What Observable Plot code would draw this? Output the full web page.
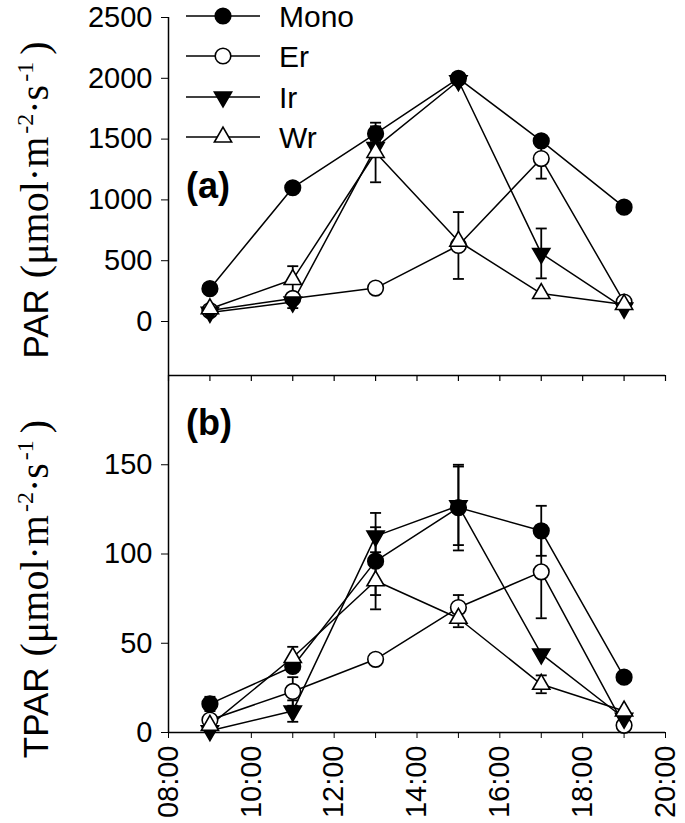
<!DOCTYPE html>
<html><head><meta charset="utf-8">
<script src="https://cdn.jsdelivr.net/npm/d3@7"></script>
<script src="https://cdn.jsdelivr.net/npm/@observablehq/plot@0.6"></script>
<style>
body{margin:0;background:#fff;}
#wrap{position:relative;width:685px;height:823px;font-family:"Liberation Sans",Arial,sans-serif;}
#top,#bot{position:absolute;left:0;}
#top{top:0px;} #bot{top:375px;}
#overlay{position:absolute;left:0;top:0;pointer-events:none;}
</style></head>
<body><div id="wrap"><div id="top"></div><div id="bot"></div><svg id="overlay" width="685" height="823"></svg></div>
<script>
// ---------- data ----------
const times = [9, 11, 13, 15, 17, 19];
const seriesNames = ["Mono", "Er", "Ir", "Wr"];

const parMono = [270, 1100, 1545, 2000, 1485, 940];
const parMonoErr = [0, 0, 60, 0, 0, 0];
const parEr = [90, 190, 275, 625, 1340, 160];
const parErErr = [0, 40, 0, 275, 165, 0];
const parIr = [75, 160, 1430, 1980, 560, 110];
const parIrErr = [0, 50, 0, 0, 205, 0];
const parWr = [105, 345, 1390, 660, 230, 140];
const parWrErr = [0, 110, 245, 0, 0, 0];

const tparMono = [16, 37, 96, 126, 113, 31];
const tparMonoErr = [4, 3, 19, 24, 14, 0];
const tparEr = [7, 23, 41, 70, 90, 4];
const tparErErr = [0, 8, 0, 7, 26, 0];
const tparIr = [1, 12, 110, 127, 44, 8];
const tparIrErr = [0, 6, 13, 22, 0, 0];
const tparWr = [4, 42, 85, 64, 27, 12];
const tparWrErr = [0, 6, 16, 5, 5, 0];

const parTicks = [0, 500, 1000, 1500, 2000, 2500];
const tparTicks = [0, 50, 100, 150];
const hourTicks = [8, 9, 10, 11, 12, 13, 14, 15, 16, 17, 18, 19, 20];
const hourLabelValues = [8, 10, 12, 14, 16, 18, 20];
const hourLabels = ["08:00", "10:00", "12:00", "14:00", "16:00", "18:00", "20:00"];

// ---------- build tables ----------
function rowsOf(valuesBySeries, errsBySeries) {
  const out = [];
  seriesNames.forEach((s, k) => {
    times.forEach((t, i) => out.push({series: s, time: t, value: valuesBySeries[k][i], err: errsBySeries[k][i]}));
  });
  return out;
}
const parRows = rowsOf([parMono, parEr, parIr, parWr], [parMonoErr, parErErr, parIrErr, parWrErr]);
const tparRows = rowsOf([tparMono, tparEr, tparIr, tparWr], [tparMonoErr, tparErErr, tparIrErr, tparWrErr]);

const sqrt3 = Math.sqrt(3);
const triangleDown = {draw(ctx, size) {
  const y = -Math.sqrt(size / (sqrt3 * 3));
  ctx.moveTo(0, -y * 2); ctx.lineTo(sqrt3 * y, y); ctx.lineTo(-sqrt3 * y, y); ctx.closePath();
}};
const capSymbol = {draw(ctx, size) { ctx.moveTo(-5.5, 0); ctx.lineTo(5.5, 0); }};

const styleMap = {
  Mono: {symbol: "circle", fill: "black", r: 7.8},
  Er:   {symbol: "circle", fill: "white", r: 7.8},
  Ir:   {symbol: triangleDown, fill: "black", r: 6.4},
  Wr:   {symbol: "triangle", fill: "white", r: 6.4}
};

function dataMarks(rows) {
  const errRows = rows.filter(d => d.err > 0);
  const marks = [
    Plot.line(rows, {x: "time", y: "value", z: "series", stroke: "black", strokeWidth: 1.5}),
    Plot.ruleX(errRows, {x: "time", y1: d => d.value - d.err, y2: d => d.value + d.err, stroke: "black", strokeWidth: 1.8}),
    Plot.dot(errRows, {x: "time", y: d => d.value - d.err, symbol: capSymbol, r: 3, stroke: "black", fill: "none", strokeWidth: 1.8}),
    Plot.dot(errRows, {x: "time", y: d => d.value + d.err, symbol: capSymbol, r: 3, stroke: "black", fill: "none", strokeWidth: 1.8})
  ];
  seriesNames.forEach(s => {
    const st = styleMap[s];
    marks.push(Plot.dot(rows.filter(d => d.series === s), {x: "time", y: "value", symbol: st.symbol, r: st.r, fill: st.fill, stroke: "black", strokeWidth: 1.6}));
  });
  return marks;
}

const commonStyle = {fontFamily: "'Liberation Sans', Arial, sans-serif", fontSize: "29px", color: "black", background: "transparent", overflow: "visible"};

const topPlot = Plot.plot({
  width: 685, height: 375,
  marginLeft: 168, marginRight: 20, marginTop: 17, marginBottom: 0,
  x: {domain: [8, 20], axis: null},
  y: {domain: [-444, 2500], axis: null},
  style: commonStyle,
  marks: [
    Plot.axisY({ticks: parTicks, tickSize: 7, tickPadding: 9, fontSize: 29, label: null, tickFormat: d => String(d)}),
    Plot.ruleX([8], {stroke: "black", strokeWidth: 1.5}),
    ...dataMarks(parRows)
  ]
});
document.getElementById("top").appendChild(topPlot);

const labelMap = new Map(hourLabelValues.map((v, i) => [v, hourLabels[i]]));
const botPlot = Plot.plot({
  width: 685, height: 448,
  marginLeft: 168, marginRight: 20, marginTop: 0, marginBottom: 91,
  x: {domain: [8, 20], axis: null},
  y: {domain: [0, 200], axis: null},
  style: commonStyle,
  marks: [
    Plot.axisY({ticks: tparTicks, tickSize: 7, tickPadding: 9, fontSize: 29, label: null}),
    Plot.axisX({ticks: hourTicks, tickSize: 6, tickPadding: 7, tickRotate: -90, fontSize: 29, label: null,
                tickFormat: d => labelMap.get(d) ?? ""}),
    Plot.ruleX(hourTicks, {x: d => d, insetBottom: 351, stroke: "black", strokeWidth: 1.2}),
    Plot.ruleX([8], {stroke: "black", strokeWidth: 1.5}),
    Plot.ruleY([0], {stroke: "black", strokeWidth: 1.5}),
    Plot.ruleY([200], {stroke: "black", strokeWidth: 1.5}),
    ...dataMarks(tparRows)
  ]
});
document.getElementById("bot").appendChild(botPlot);

// ---------- overlay: titles, panel labels, legend ----------
const ov = d3.select("#overlay");
function yTitle(prefix, cy) {
  const t = ov.append("text").attr("transform", `translate(48,${cy}) rotate(-90)`).attr("text-anchor", "middle").attr("fill", "black");
  t.append("tspan").attr("font-family", "'Liberation Sans', Arial, sans-serif").attr("font-size", 35).text(prefix);
  const serif = "'Liberation Serif', 'Times New Roman', serif";
  t.append("tspan").attr("font-family", serif).attr("font-size", 40).attr("dx", 11).text("(\u03bcmol\u00b7m");
  t.append("tspan").attr("font-family", serif).attr("font-size", 24).attr("dy", -15).attr("dx", 3).text("-2");
  t.append("tspan").attr("font-family", serif).attr("font-size", 40).attr("dy", 15).text("\u00b7s");
  t.append("tspan").attr("font-family", serif).attr("font-size", 24).attr("dy", -15).attr("dx", 3).text("-1");
  t.append("tspan").attr("font-family", serif).attr("font-size", 40).attr("dy", 15).attr("dx", 7).text(")");
}
yTitle("PAR", 200);
yTitle("TPAR", 589);

ov.append("text").attr("x", 186).attr("y", 198).attr("font-family", "'Liberation Sans', Arial, sans-serif")
  .attr("font-size", 36).attr("font-weight", "bold").text("(a)");
ov.append("text").attr("x", 186).attr("y", 435).attr("font-family", "'Liberation Sans', Arial, sans-serif")
  .attr("font-size", 36).attr("font-weight", "bold").text("(b)");

const legendY = [16, 56, 97, 137];
seriesNames.forEach((s, i) => {
  const y = legendY[i];
  const g = ov.append("g");
  g.append("line").attr("x1", 186).attr("x2", 260).attr("y1", y).attr("y2", y).attr("stroke", "black").attr("stroke-width", 1.5);
  const st = styleMap[s];
  const type = st.symbol === "circle" ? d3.symbolCircle : st.symbol === "triangle" ? d3.symbolTriangle : st.symbol;
  g.append("path").attr("transform", `translate(223,${y})`)
    .attr("d", d3.symbol(type, Math.PI * st.r * st.r)())
    .attr("fill", st.fill).attr("stroke", "black").attr("stroke-width", 1.6);
  g.append("text").attr("x", 279).attr("y", y + 11).attr("font-family", "'Liberation Sans', Arial, sans-serif")
    .attr("font-size", 30).attr("fill", "black").text(s);
});
</script>
</body></html>
